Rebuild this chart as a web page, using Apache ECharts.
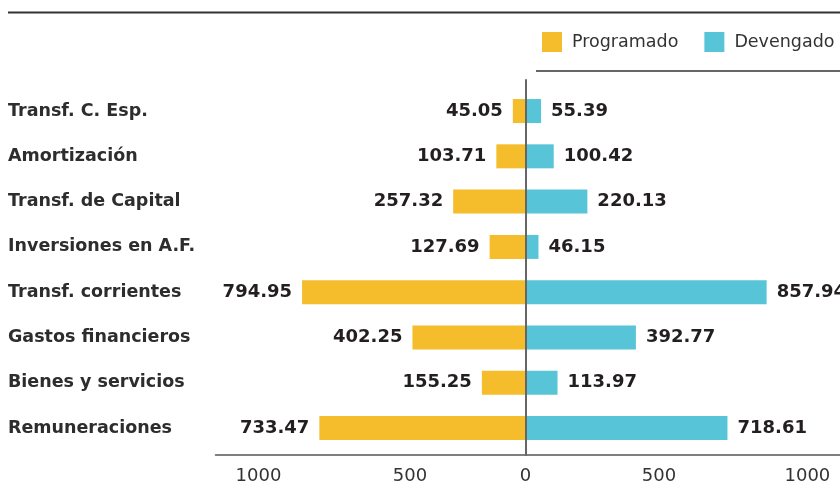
<!DOCTYPE html>
<html>
<head>
<meta charset="utf-8">
<script src="https://cdn.jsdelivr.net/npm/echarts@6/dist/echarts.min.js"></script>
<style>html,body{margin:0;padding:0;background:#fff}#c{width:840px;height:490px}</style>
</head>
<body>
<div id="c"></div>
<script>
const categories = ['Transf. C. Esp.', 'Amortización', 'Transf. de Capital', 'Inversiones en A.F.', 'Transf. corrientes', 'Gastos financieros', 'Bienes y servicios', 'Remuneraciones'];
const programado = [45.05, 103.71, 257.32, 127.69, 794.95, 402.25, 155.25, 733.47];
const devengado = [55.39, 100.42, 220.13, 46.15, 857.94, 392.77, 113.97, 718.61];
const seriesNames = ['Programado', 'Devengado'];
const tickLabels = ['1000', '500', '0', '500', '1000'];

const FONT = 'DejaVu Sans';
const chart = echarts.init(document.getElementById('c'), null, {renderer: 'canvas'});
const xMin = -1103, xMax = 1119;
const labelAt = [-950, -411, 0, 475, 1003];
chart.setOption({
  animation: false,
  backgroundColor: '#fff',
  textStyle: {fontFamily: FONT},
  legend: {
    data: seriesNames,
    orient: 'horizontal',
    left: 542, top: 32, width: 400, padding: 0,
    itemWidth: 20, itemHeight: 20, itemGap: 26,
    icon: 'rect',
    textStyle: {fontSize: 17.5, color: '#333', fontFamily: FONT, padding: [0, 0, 0, 5]}
  },
  graphic: [
    {type: 'line', shape: {x1: 8, y1: 12.5, x2: 840, y2: 12.5}, style: {stroke: '#333', lineWidth: 2}},
    {type: 'line', shape: {x1: 536, y1: 71, x2: 840, y2: 71}, style: {stroke: '#666', lineWidth: 2}}
  ],
  grid: [
    {left: 215.5, right: 0, top: 88.4, height: 362.3},
    {left: 215.5, right: 0, top: 80, bottom: 35}
  ],
  xAxis: [
    {gridIndex: 0, type: 'value', min: xMin, max: xMax, show: false},
    {gridIndex: 1, type: 'value', min: xMin, max: xMax,
     axisLine: {show: true, onZero: false, lineStyle: {color: '#555', width: 1.5}},
     axisTick: {show: false}, splitLine: {show: false},
     axisLabel: {
       customValues: labelAt,
       margin: 12, fontSize: 18, color: '#333', fontFamily: FONT,
       formatter: function (v) {
         const idx = labelAt.indexOf(v);
         return idx >= 0 ? tickLabels[idx] : '';
       }
     }}
  ],
  yAxis: [
    {gridIndex: 0, type: 'category', data: categories, inverse: true,
     axisLine: {show: false, onZero: false}, axisTick: {show: false}, splitLine: {show: false},
     axisLabel: {align: 'left', margin: 207.5, fontSize: 17.5, fontWeight: 'bold', color: '#2d2d2d', fontFamily: FONT}},
    {gridIndex: 1, type: 'value', min: 0, max: 1, z: 10,
     axisLine: {show: true, onZero: true, lineStyle: {color: '#666', width: 2}},
     axisTick: {show: false}, splitLine: {show: false}, axisLabel: {show: false}}
  ],
  series: [
    {
      name: seriesNames[0], type: 'bar', stack: 'total', xAxisIndex: 0, yAxisIndex: 0,
      barWidth: 24,
      itemStyle: {color: '#F5BC2B'},
      data: programado.map(v => -v),
      label: {show: true, position: 'left', distance: 10, fontSize: 18, fontWeight: 'bold', color: '#231f20', fontFamily: FONT,
        formatter: p => programado[p.dataIndex].toFixed(2)}
    },
    {
      name: seriesNames[1], type: 'bar', stack: 'total', xAxisIndex: 0, yAxisIndex: 0,
      barWidth: 24,
      itemStyle: {color: '#58C4D8'},
      data: devengado,
      label: {show: true, position: 'right', distance: 10, fontSize: 18, fontWeight: 'bold', color: '#231f20', fontFamily: FONT,
        formatter: p => devengado[p.dataIndex].toFixed(2)}
    }
  ]
});
</script>
</body>
</html>
